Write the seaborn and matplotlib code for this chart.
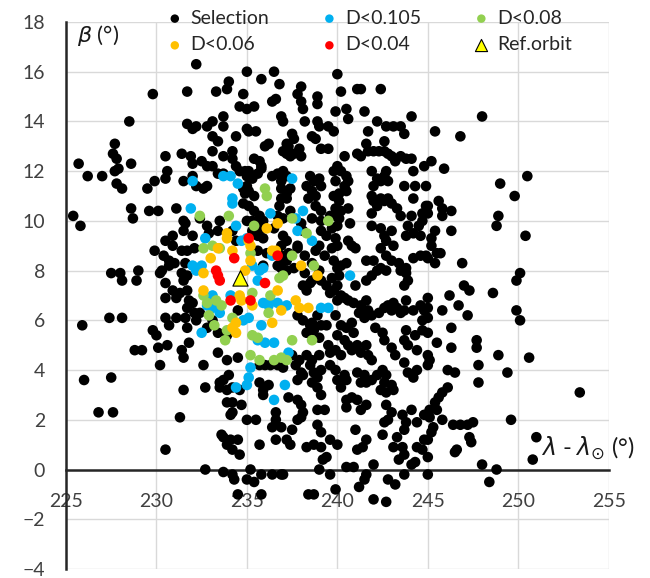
import numpy as np
import pandas as pd
import matplotlib
matplotlib.use("Agg")
import matplotlib.pyplot as plt
import seaborn as sns

# points: (lambda - lambda_sun, beta) in degrees
selection = [
    (225.4, 10.2), (225.8, 9.8), (225.7, 12.3), (226.2, 11.8), (227.0, 11.8), (227.7, 13.1), (227.6, 12.7),
    (227.8, 12.5), (227.7, 12.0), (227.9, 12.1), (227.8, 11.5), (228.1, 11.3), (228.5, 14.0), (228.6, 12.3),
    (228.6, 10.5), (228.7, 10.1), (229.8, 15.1), (229.5, 11.3), (229.9, 11.6), (229.6, 10.4), (230.1, 10.4),
    (229.9, 8.8), (227.5, 7.9), (228.0, 7.9), (228.1, 7.6), (229.0, 8.0), (228.9, 7.6), (227.4, 6.1),
    (228.1, 6.1), (225.9, 5.8), (229.8, 5.6), (230.0, 5.4), (228.8, 4.8), (229.2, 4.8), (230.1, 4.9),
    (230.6, 5.0), (230.2, 4.2), (226.0, 3.6), (227.5, 3.7), (226.8, 2.3), (227.6, 2.3), (230.5, 0.8),
    (231.3, 2.1), (231.5, 3.2), (230.2, 7.9), (230.5, 7.5), (230.5, 6.9), (230.9, 7.2), (231.1, 6.9),
    (231.3, 7.1), (231.5, 7.6), (231.7, 7.2), (231.8, 6.8), (231.7, 6.5), (232.0, 6.7), (232.1, 6.3),
    (232.2, 6.0), (231.1, 6.1), (230.7, 5.8), (230.5, 6.1), (231.6, 6.1), (231.7, 5.7), (231.8, 5.1),
    (231.4, 4.8), (231.5, 4.5), (232.6, 4.2), (233.4, 4.7), (233.9, 4.4), (234.5, 4.5), (234.0, 3.8),
    (233.5, 3.5), (233.7, 3.6), (233.5, 3.3), (233.9, 3.2), (234.2, 3.3), (232.7, 3.3), (233.9, 2.7),
    (234.2, 2.7), (234.7, 2.6), (234.2, 2.3), (234.1, 2.2), (233.7, 1.3), (234.1, 1.2), (234.5, 1.2),
    (234.2, 0.8), (234.6, 0.6), (233.9, 1.0), (232.7, 0.0), (233.7, -0.1), (234.2, -0.2), (234.3, -0.4),
    (234.5, -1.0), (235.0, -0.4), (232.2, 16.3), (231.7, 15.2), (233.3, 15.2), (233.9, 15.3), (234.0, 15.6),
    (235.0, 16.0), (234.8, 15.1), (234.6, 14.6), (235.0, 14.5), (235.4, 14.6), (235.8, 15.7), (236.5, 16.0),
    (236.8, 15.5), (236.4, 14.8), (236.6, 14.9), (231.7, 13.9), (232.0, 13.7), (232.2, 13.8), (232.8, 13.8),
    (233.1, 14.0), (233.7, 14.2), (233.7, 13.8), (233.1, 13.4), (233.4, 13.2), (234.4, 13.4), (235.0, 13.7),
    (235.1, 13.6), (235.5, 13.6), (230.5, 12.6), (230.6, 12.0), (230.5, 11.7), (231.4, 12.7), (231.9, 12.6),
    (232.0, 12.3), (233.1, 12.8), (233.7, 12.6), (234.2, 12.8), (234.2, 12.5), (232.5, 12.4), (232.8, 12.2),
    (233.1, 12.2), (233.4, 11.9), (233.7, 11.9), (234.4, 12.2), (234.6, 12.0), (234.9, 12.0), (235.0, 11.4),
    (234.9, 11.1), (235.4, 11.0), (234.8, 10.7), (231.5, 11.6), (232.0, 11.8), (232.2, 11.4), (232.8, 11.4),
    (232.6, 11.3), (231.1, 10.5), (232.4, 10.1), (232.8, 9.8), (233.5, 10.0), (235.0, 10.0), (235.3, 10.0),
    (235.9, 10.0), (231.5, 10.0), (231.5, 9.6), (232.0, 9.4), (230.9, 9.4), (230.5, 9.2), (230.9, 9.0),
    (230.4, 8.6), (231.4, 8.8), (231.7, 8.8), (230.3, 8.0), (230.7, 8.2), (231.0, 8.3), (231.6, 8.3),
    (231.4, 7.9), (231.7, 7.8), (230.7, 8.4), (232.1, 8.9), (232.9, 9.5), (233.4, 9.6), (234.2, 9.6),
    (234.4, 9.2), (235.3, 9.6), (235.6, 9.4), (235.9, 9.3), (235.6, 8.8), (236.1, 8.7), (235.9, 8.2),
    (236.7, 8.2), (237.2, 8.0), (236.9, 8.3), (237.3, 8.7), (237.8, 8.9), (238.2, 8.6), (238.6, 8.3),
    (238.8, 8.8), (239.0, 9.0), (238.2, 7.9), (238.6, 7.6), (239.0, 8.0), (232.4, 6.3), (232.8, 5.7),
    (233.1, 6.0), (233.4, 5.5), (233.9, 5.4), (234.2, 5.6), (234.5, 6.4),
    (240.0, 15.9), (238.0, 15.4), (237.8, 15.1), (238.0, 14.8), (238.1, 14.5), (238.9, 15.0), (238.9, 14.7),
    (239.9, 14.4), (236.9, 14.2), (237.0, 14.0), (238.2, 14.0), (238.9, 14.0), (239.0, 13.8), (239.5, 13.8),
    (239.8, 13.6), (237.5, 13.5), (237.6, 13.3), (238.6, 13.4), (238.8, 13.3), (237.2, 13.1), (237.3, 13.0),
    (237.0, 12.8), (237.2, 12.7), (237.4, 12.6), (237.6, 12.7), (237.9, 12.9), (238.0, 12.6), (236.2, 13.1),
    (236.0, 13.0), (239.1, 12.9), (239.5, 12.9), (235.4, 12.5), (235.7, 12.4), (235.8, 12.2), (235.1, 12.0),
    (235.0, 11.8), (235.3, 11.7), (235.6, 11.9), (235.8, 12.1), (236.4, 11.8), (236.7, 11.9), (237.0, 12.0),
    (237.2, 11.8), (236.9, 11.6), (238.5, 11.8), (238.7, 11.6), (239.0, 11.7), (239.1, 11.4), (239.8, 12.0),
    (240.0, 12.2), (234.8, 11.3), (235.1, 11.2), (236.9, 11.3), (237.2, 11.1), (237.4, 11.3), (236.9, 10.9),
    (237.2, 10.9), (238.3, 11.4), (238.6, 11.2), (238.4, 10.9), (238.8, 11.0), (239.8, 11.0), (240.1, 10.8),
    (235.1, 10.6), (235.4, 10.4), (235.7, 10.2), (235.6, 9.9), (235.8, 9.7), (236.8, 10.6), (236.7, 10.2),
    (237.0, 10.1), (237.4, 10.4), (238.8, 10.6), (239.1, 10.4), (238.6, 10.1), (239.1, 10.0), (239.6, 10.2),
    (239.9, 10.5), (240.1, 10.1), (236.5, 9.7), (237.0, 9.4), (237.2, 9.2), (236.9, 9.0), (238.0, 9.9),
    (238.1, 9.6), (237.8, 9.0), (239.1, 9.6), (239.4, 9.4), (239.7, 9.7), (239.9, 9.3), (239.7, 8.9),
    (239.3, 8.6), (236.9, 8.6), (237.2, 8.4), (236.9, 8.1), (239.8, 8.4), (240.0, 8.1),
    (240.2, 15.2), (241.1, 15.3), (241.3, 15.3), (242.4, 15.3), (240.5, 14.5), (240.6, 14.1), (241.5, 14.4),
    (242.2, 14.0), (242.7, 13.8), (243.1, 13.8), (243.5, 13.8), (243.7, 13.5), (244.1, 14.2), (241.7, 13.6),
    (242.6, 13.2), (241.6, 13.1), (241.1, 12.7), (241.3, 12.6), (241.7, 12.8), (242.0, 12.8), (242.3, 12.8),
    (242.6, 12.8), (242.8, 12.7), (243.0, 12.6), (243.2, 12.4), (243.5, 12.6), (243.8, 12.5), (244.1, 12.5),
    (240.4, 12.6), (244.8, 12.2), (245.2, 12.4), (240.2, 12.0), (240.5, 11.8), (240.6, 11.6), (239.9, 11.6),
    (240.4, 11.4), (240.1, 11.1), (240.5, 11.2), (241.9, 12.0), (242.2, 11.7), (242.6, 11.8), (242.7, 12.0),
    (242.0, 11.4), (242.4, 11.6), (242.8, 11.6), (243.7, 11.4), (244.2, 12.0), (244.2, 10.9), (244.9, 11.4),
    (240.6, 10.5), (240.2, 10.4), (239.9, 10.2), (240.7, 9.9), (240.0, 9.8), (241.9, 11.0), (242.0, 10.8),
    (242.2, 10.6), (242.4, 10.9), (242.6, 10.8), (242.8, 10.9), (243.0, 10.7), (243.3, 10.5), (243.5, 10.2),
    (241.9, 10.3), (244.1, 10.2), (244.7, 10.3), (244.9, 10.6), (241.9, 9.8), (242.4, 9.7), (242.6, 9.4),
    (243.0, 9.6), (242.7, 9.2), (243.1, 9.0), (242.4, 8.9), (243.8, 9.4), (244.5, 9.8), (244.6, 9.4),
    (240.0, 9.0), (240.6, 9.2), (240.8, 9.0), (241.0, 8.9), (240.2, 8.2), (240.5, 8.3), (241.6, 8.4),
    (242.0, 8.4), (242.7, 8.6), (243.0, 8.4), (243.4, 8.3), (243.8, 8.1), (244.2, 8.5), (244.6, 8.6),
    (244.9, 8.6), (248.0, 14.2), (245.4, 13.6), (246.8, 13.4), (245.9, 12.1), (244.3, 11.4), (249.0, 11.5),
    (249.8, 11.0), (250.5, 11.8), (245.6, 10.8), (245.8, 10.5), (245.8, 10.2), (246.3, 10.4), (245.0, 10.6),
    (245.0, 10.3), (248.9, 10.2), (248.8, 9.8), (250.4, 9.4), (245.4, 9.6), (246.3, 9.6), (245.2, 9.3),
    (245.2, 9.0), (243.9, 9.8), (244.2, 9.5), (244.7, 10.0), (245.5, 8.7), (245.7, 8.7), (245.4, 8.3),
    (246.9, 8.3), (245.0, 8.5), (250.1, 7.9), (249.9, 7.6), (247.0, 7.4), (247.3, 7.2), (248.6, 7.1),
    (246.2, 7.0), (246.7, 6.6), (245.8, 6.4), (245.0, 6.5), (245.0, 6.1), (247.2, 6.2), (249.9, 6.4),
    (250.1, 6.0), (246.3, 5.7), (245.0, 5.5), (245.5, 5.1), (246.3, 4.9), (247.7, 5.2), (247.7, 4.9),
    (248.9, 4.6), (250.6, 4.5), (245.0, 4.6), (245.1, 4.4), (245.0, 4.2), (247.8, 4.2), (246.1, 4.0),
    (246.5, 3.9), (249.4, 3.9), (247.8, 3.5), (246.1, 3.3), (245.8, 3.1), (245.6, 2.9), (245.4, 2.7),
    (245.5, 2.4), (245.1, 2.4), (245.1, 2.1), (253.4, 3.1), (249.6, 2.0), (245.8, 2.0), (246.4, 1.8),
    (246.8, 1.8), (247.2, 1.8), (247.5, 1.9), (245.3, 1.7), (245.2, 1.5), (245.0, 1.2), (247.3, 1.3),
    (247.4, 1.1), (246.6, 0.8), (246.5, 0.7), (251.0, 1.3), (250.8, 0.4), (245.0, 0.5), (248.0, 0.2),
    (248.8, 0.0), (245.0, -0.2), (248.4, -0.5),
    (241.0, 7.4), (241.6, 7.6), (241.9, 7.8), (242.2, 8.0), (242.4, 8.1), (242.7, 8.0), (243.5, 8.0),
    (243.8, 7.9), (243.9, 7.6), (243.7, 7.4), (240.1, 7.8), (240.0, 7.4), (239.8, 7.2), (240.0, 6.8),
    (240.4, 6.9), (240.6, 6.8), (240.9, 6.7), (241.3, 6.6), (241.6, 6.8), (241.7, 6.4), (241.9, 6.2),
    (241.5, 6.1), (241.2, 6.3), (242.3, 6.3), (242.6, 6.5), (242.8, 6.6), (243.0, 6.4), (243.1, 6.7),
    (243.3, 6.5), (243.5, 6.3), (243.7, 6.4), (243.8, 6.8), (244.2, 6.4), (244.6, 6.6), (244.8, 6.4),
    (244.7, 6.0), (245.0, 6.9), (239.9, 6.2), (240.2, 5.8), (240.5, 5.7), (240.8, 5.9), (240.9, 5.5),
    (240.0, 5.4), (240.4, 5.2), (240.6, 5.0), (240.2, 4.6), (240.8, 4.8), (241.1, 5.0), (241.3, 4.7),
    (241.6, 5.0), (241.7, 4.6), (241.9, 4.4), (242.1, 5.7), (242.5, 5.5), (242.6, 5.2), (243.0, 4.9),
    (243.2, 4.6), (243.7, 5.2), (243.8, 5.6), (243.9, 5.0), (244.3, 5.4), (244.4, 4.8), (244.7, 5.6),
    (243.7, 4.3), (243.9, 3.9), (244.2, 3.7), (244.4, 4.0), (240.4, 3.8), (240.0, 3.6), (240.2, 3.3),
    (240.5, 3.6), (241.1, 3.9), (241.5, 3.8), (241.6, 3.5), (241.3, 3.5), (241.9, 3.6), (242.2, 3.8),
    (242.5, 4.0), (242.7, 3.8), (242.6, 3.5), (243.0, 3.4), (243.1, 3.2), (242.7, 3.1), (242.4, 3.2),
    (240.5, 2.8), (240.8, 2.9), (241.1, 2.8), (240.5, 2.5), (241.3, 2.4), (241.6, 2.6), (242.7, 2.6),
    (243.0, 2.3), (242.8, 2.0), (242.6, 1.9), (243.6, 2.2), (243.8, 1.9), (244.1, 2.4), (244.4, 1.9),
    (244.8, 2.2), (241.0, 1.6), (241.6, 1.2), (242.5, 1.4), (243.3, 1.3), (243.7, 1.6), (240.0, 1.0),
    (241.1, 0.8), (241.4, 0.9), (243.1, 0.9), (243.6, 0.9), (244.4, 0.9), (244.7, 0.8), (244.8, 1.2),
    (243.4, 0.4), (243.7, 0.6), (244.1, 0.2), (244.3, 0.3), (242.0, 0.2), (240.5, 0.1), (240.9, 0.1),
    (241.6, -0.2), (241.5, -0.4), (241.2, -0.7), (242.8, -0.4), (243.2, -0.6), (243.7, -0.2), (242.0, -1.2),
    (242.7, -1.3), (239.9, -0.8),
    (237.6, 8.1), (238.1, 7.4), (238.5, 7.5), (238.3, 7.2), (239.1, 7.6), (239.4, 7.4), (239.7, 7.7),
    (239.6, 7.1), (240.2, 7.0), (238.1, 6.0), (238.5, 5.8), (238.7, 5.6), (238.3, 5.5), (239.1, 5.8),
    (239.4, 5.8), (239.0, 5.3), (239.5, 5.0), (239.9, 4.8), (239.6, 4.7), (235.7, 4.2), (236.0, 4.2),
    (236.3, 4.2), (236.7, 4.2), (237.0, 4.1), (237.7, 4.2), (238.0, 3.9), (237.8, 3.6), (238.5, 4.2),
    (238.7, 3.9), (239.1, 4.0), (238.9, 3.7), (238.1, 3.8), (239.6, 4.2), (239.9, 4.0), (235.7, 3.5),
    (235.9, 3.2), (236.2, 3.4), (235.9, 3.0), (237.3, 2.9), (237.8, 2.8), (238.0, 2.6), (238.1, 2.3),
    (238.0, 2.1), (238.9, 2.4), (239.3, 2.4), (236.6, 2.3), (236.6, 2.0), (235.0, 2.0), (235.5, 2.0),
    (236.4, 1.7), (236.9, 1.7), (237.5, 1.6), (237.2, 1.2), (236.6, 1.2), (235.7, 1.0), (238.3, 0.9),
    (238.7, 1.0), (239.1, 0.9), (239.4, 0.5), (239.6, 1.2), (235.2, 0.0), (235.8, -0.2), (236.4, -0.2),
    (236.9, -0.2), (239.0, 0.0), (239.6, -0.2), (235.8, -1.0), (238.4, -1.0), (238.7, -1.0), (235.4, -0.5),
    (237.0, -0.2), (237.4, 1.0), (239.2, 0.4), (237.8, 2.0), (238.9, 1.8), (239.1, 1.5), (237.5, 4.6),
    (237.9, 4.4), (238.3, 4.6), (238.6, 4.4), (239.0, 4.6), (238.6, 3.5), (238.9, 3.3), (239.1, 3.0),
    (237.8, 6.2), (238.6, 5.9), (238.9, 6.2), (234.6, 3.2), (233.6, 1.4), (231.6, 9.9),
]

d0105 = [
    (232.0, 11.6), (233.7, 11.8), (234.1, 11.8), (234.5, 11.5), (234.2, 10.9), (234.2, 10.7), (231.9, 10.5),
    (234.4, 9.8), (232.7, 9.3), (234.7, 9.2), (235.0, 9.3), (236.3, 10.3), (237.5, 11.7), (238.1, 10.4),
    (237.7, 10.1), (237.8, 9.6), (238.6, 9.2), (232.0, 8.2), (232.2, 8.0), (232.5, 8.2), (235.3, 8.2),
    (235.7, 8.0), (235.6, 7.6), (236.4, 8.6), (233.1, 7.0), (233.1, 6.5), (233.5, 6.3), (232.8, 6.6),
    (234.1, 7.0), (232.5, 5.5), (235.1, 6.1), (234.8, 6.0), (235.9, 6.7), (236.2, 6.6), (236.3, 6.8),
    (236.7, 6.7), (237.2, 6.6), (235.8, 5.8), (236.0, 5.1), (236.5, 5.1), (237.3, 4.7), (235.2, 4.1),
    (235.1, 3.7), (235.0, 3.4), (234.4, 3.3), (237.1, 3.4), (236.5, 2.8), (239.1, 6.5), (239.5, 6.5),
    (235.6, 5.2), (240.7, 7.8), (235.9, 8.1),
]

d008 = [
    (232.4, 10.2), (234.0, 10.2), (235.4, 9.8), (236.0, 11.3), (236.1, 11.0), (237.5, 10.1), (238.3, 9.5),
    (232.6, 8.9), (233.1, 9.0), (233.5, 8.9), (235.2, 8.7), (237.0, 7.8), (236.8, 7.7), (238.7, 8.2),
    (237.5, 8.6), (232.6, 7.0), (232.8, 6.7), (233.3, 6.8), (233.6, 6.6), (232.9, 6.2), (233.2, 5.8),
    (233.8, 5.2), (233.9, 5.6), (234.2, 6.1), (235.3, 5.4), (235.6, 5.3), (236.2, 6.3), (236.3, 7.0),
    (235.2, 4.6), (235.7, 4.4), (236.5, 4.4), (236.9, 4.5), (237.2, 4.4), (237.5, 5.2), (238.6, 5.2),
    (235.3, 7.1), (239.5, 10.0),
]

d006 = [
    (233.9, 9.5), (233.9, 9.3), (235.1, 9.2), (235.2, 9.0), (236.1, 9.7), (236.7, 9.9), (233.4, 8.9),
    (233.0, 8.5), (234.2, 8.8), (232.6, 7.9), (235.2, 8.4), (236.4, 8.8), (236.6, 8.8), (238.0, 8.2),
    (234.9, 8.0), (238.9, 7.8), (234.6, 7.0), (235.3, 6.6), (234.7, 6.8), (236.9, 6.4), (236.4, 5.9),
    (234.4, 5.9), (234.4, 5.5), (234.2, 5.7), (237.7, 6.8), (237.9, 6.5), (238.4, 6.5), (236.7, 7.2),
    (232.6, 7.2),
]

d004 = [
    (235.1, 9.3), (234.3, 8.5), (236.7, 8.6), (236.0, 7.5), (233.3, 8.0), (233.4, 7.8), (233.5, 7.6),
    (234.1, 6.8), (235.2, 6.8),
]

ref_orbit = [(234.6, 7.7)]

x_ticks = list(range(225, 256, 5))
y_ticks = list(range(-4, 19, 2))

sns.set_style("white")
plt.rcParams['font.family'] = ['Lato', 'DejaVu Sans']
plt.rcParams['mathtext.fontset'] = 'dejavusans'

fig = plt.figure(figsize=(6.5, 5.78), dpi=100)
ax = fig.add_axes([0.1015, 0.0156, 0.835, 0.9464])

groups = [
    (selection, 'Selection', 'black'),
    (d0105, 'D<0.105', '#00B0F0'),
    (d008, 'D<0.08', '#92D050'),
    (d006, 'D<0.06', '#FFC000'),
    (d004, 'D<0.04', '#FF0000'),
]
for pts, name, col in groups:
    df = pd.DataFrame(pts, columns=['lam', 'beta'])
    sns.scatterplot(data=df, x='lam', y='beta', color=col, s=58, edgecolor='none',
                    linewidth=0, label=name, ax=ax, zorder=3)

ref = pd.DataFrame(ref_orbit, columns=['lam', 'beta'])
sns.scatterplot(data=ref, x='lam', y='beta', color='#FFFF00', marker='^', s=120,
                edgecolor='black', linewidth=0.8, label='Ref.orbit', ax=ax, zorder=4)

ax.set_xlim(225, 255)
ax.set_ylim(-4, 18)
ax.set_xticks(x_ticks)
ax.set_yticks(y_ticks)
ax.set_xlabel('')
ax.set_ylabel('')
ax.grid(True, color='#D9D9D9', linewidth=1.0, zorder=0)
ax.set_axisbelow(True)

for s in ['top', 'right']:
    ax.spines[s].set_visible(False)
ax.spines['bottom'].set_position(('data', 0))
ax.spines['bottom'].set_linewidth(1.8)
ax.spines['left'].set_linewidth(1.8)
ax.spines['bottom'].set_zorder(2)
ax.tick_params(axis='x', direction='in', length=5, width=1.5, pad=17, labelsize=14, labelcolor='#404040')
ax.tick_params(axis='y', direction='in', length=5, width=1.5, pad=15, labelsize=14, labelcolor='#404040')

ax.text(225.6, 17.95, r'$\beta$ (°)', fontsize=16, va='top', ha='left', color='#1a1a1a')
ax.text(251.25, 0.3, r'$\lambda$ - $\lambda_{\odot}$ (°)', fontsize=17, va='bottom', ha='left',
        color='#1a1a1a', clip_on=False)

handles, labels = ax.get_legend_handles_labels()
order = ['Selection', 'D<0.06', 'D<0.105', 'D<0.04', 'D<0.08', 'Ref.orbit']
hmap = dict(zip(labels, handles))
ax.legend([hmap[k] for k in order], order, ncol=3, loc='upper left',
          bbox_to_anchor=(0.245, 1.0), bbox_transform=fig.transFigure,
          frameon=False, fontsize=14, handlelength=0.6, handletextpad=0.5,
          columnspacing=2.8, labelspacing=0.5, borderpad=0, markerscale=0.8)

fig.savefig('out.png', dpi=100)
